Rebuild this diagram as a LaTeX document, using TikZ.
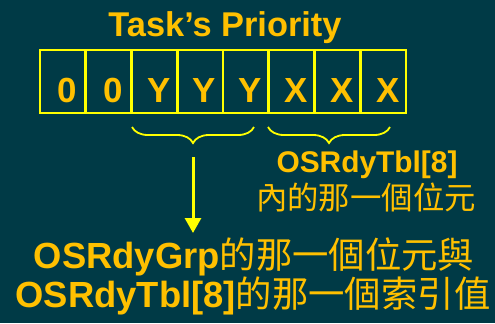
\documentclass[tikz,border=0pt]{standalone}
\usepackage{fontspec}
\setmainfont{Liberation Sans}
\newfontfamily\cjk{Noto Sans CJK TC}
\usetikzlibrary{decorations.pathreplacing,arrows.meta}
\definecolor{bgteal}{HTML}{003A46}
\definecolor{gold}{HTML}{FFC000}
\definecolor{brightyellow}{HTML}{FFFF00}
\tikzset{
  cell/.style={draw=brightyellow, line width=2.6bp, minimum width=45.75bp, minimum height=63bp, inner sep=0pt},
  digit/.style={text=gold, font=\fontsize{35}{38}\selectfont\bfseries, anchor=base, inner sep=0pt},
  label/.style={text=gold, anchor=base, inner sep=0pt, align=center},
  bracket/.style={draw=brightyellow, line width=1.8bp, decorate, decoration={brace, mirror, amplitude=16bp}},
}
\begin{document}
\begin{tikzpicture}[x=1bp, y=-1bp]
  \fill[bgteal] (0,0) rectangle (495,323);
  \useasboundingbox (0,0) rectangle (495,323);

  % title
  \node[label, font=\fontsize{34.5}{38}\selectfont\bfseries] (title) at (225,36) {Task’s Priority};

  % the eight bit cells
  \foreach \i/\t in {1/0,2/0,3/Y,4/Y,5/Y,6/X,7/X,8/X} {
    \node[cell] (c\i) at ({40+45.75*(\i-0.5)},81.5) {};
    \node[digit] (d\i) at ({40+45.75*(\i-0.5)+4.5},102) {\t};
  }

  % braces under the YYY and XXX groups
  \coordinate (ya) at (132,127);
  \coordinate (yb) at (254,127);
  \coordinate (xa) at (268,127);
  \coordinate (xb) at (390,127);
  \draw[bracket] (ya) -- (yb);
  \draw[bracket] (xa) -- (xb);

  % arrow from the YYY brace to the explanation
  \coordinate (arrtop) at (193,157);
  \coordinate (arrtip) at (193,233);
  \draw[draw=brightyellow, line width=3bp, -{Triangle[width=16bp,length=15bp]}] (arrtop) -- (arrtip);

  % explanation of the XXX group
  \node[label, font=\fontsize{30}{32}\selectfont\bfseries] (tbl) at (367,172) {OSRdyTbl[8]};
  \node[label, font=\fontsize{31.5}{34}\selectfont\cjk] (tblbit) at (366,209) {內的那一個位元};

  % explanation of the YYY group
  \node[label, font=\fontsize{36.5}{40}\selectfont\bfseries] (grp) at (254,268) {OSRdyGrp{\mdseries\cjk 的那一個位元與}};
  \node[label, font=\fontsize{36.5}{40}\selectfont\bfseries] (idx) at (253,307) {OSRdyTbl[8]{\mdseries\cjk 的那一個索引值}};
\end{tikzpicture}
\end{document}
